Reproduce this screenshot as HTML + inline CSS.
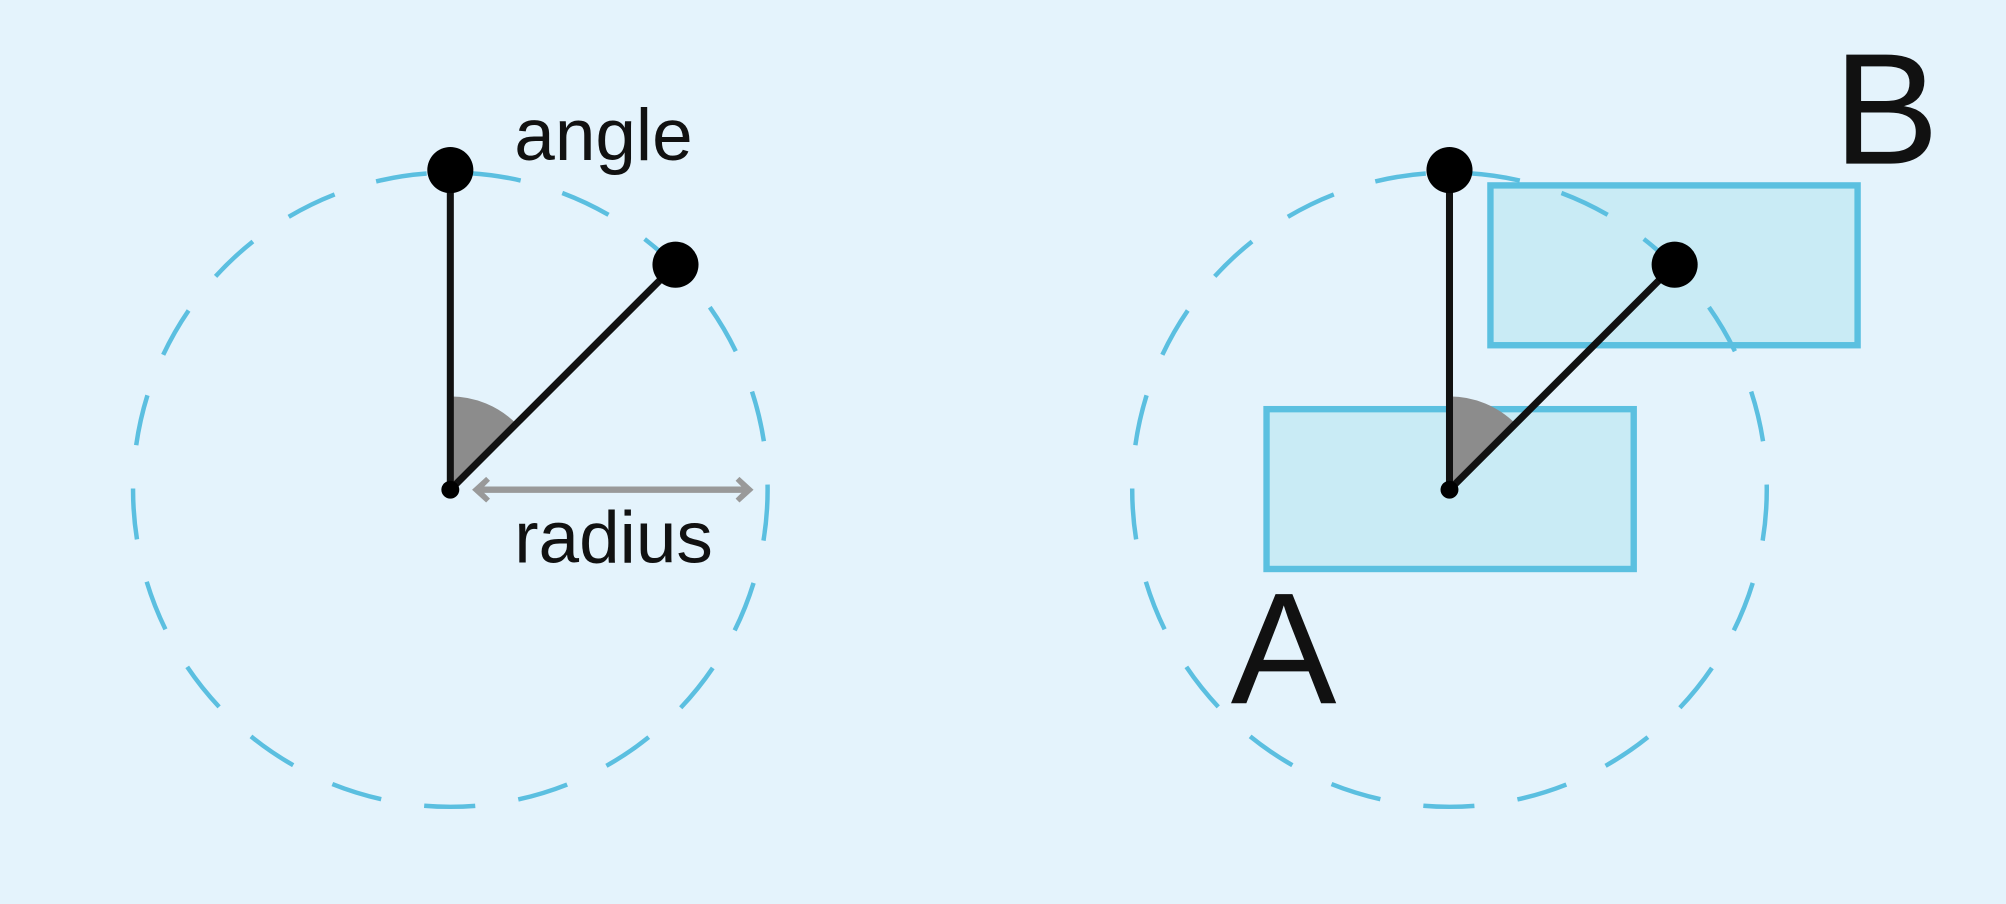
<!DOCTYPE html>
<html><head><meta charset="utf-8"><style>
html,body{margin:0;padding:0;background:#e4f3fc;}
svg{display:block;}
text{font-family:"Liberation Sans",Arial,sans-serif;fill:#111;}
</style></head><body>
<svg width="2006" height="904" viewBox="0 0 1568 707" preserveAspectRatio="none" xmlns="http://www.w3.org/2000/svg">
<rect width="1568" height="707" fill="#e4f3fc"/>
<!-- Left -->
<circle cx="352" cy="383" r="248" fill="none" stroke="#5bbfe0" stroke-width="3.5" stroke-dasharray="40 34"/>
<path d="M352 383 L352 310 A73 73 0 0 1 403.6 331.4 Z" fill="#8c8c8c"/>
<line x1="352" y1="133" x2="352" y2="383" stroke="#111" stroke-width="5.5"/>
<line x1="352" y1="383" x2="528" y2="207" stroke="#111" stroke-width="5.5"/>
<circle cx="352" cy="133" r="18" fill="#000"/>
<circle cx="528" cy="207" r="18" fill="#000"/>
<circle cx="352" cy="383" r="7" fill="#000"/>
<line x1="372" y1="383" x2="586" y2="383" stroke="#999" stroke-width="5"/>
<path d="M369 383 L380 373 L383 376 L376 383 L383 390 L380 393 Z" fill="#999"/>
<path d="M589 383 L578 373 L575 376 L582 383 L575 390 L578 393 Z" fill="#999"/>
<text x="402" y="125" font-size="57">angle</text>
<text x="402" y="440" font-size="57">radius</text>
<!-- Right -->
<rect x="1165" y="145" width="287" height="125" fill="#c9ebf5" stroke="#5bc0e0" stroke-width="5"/>
<rect x="990" y="320" width="287" height="125" fill="#c9ebf5" stroke="#5bc0e0" stroke-width="5"/>
<circle cx="1133" cy="383" r="248" fill="none" stroke="#5bbfe0" stroke-width="3.5" stroke-dasharray="40 34"/>
<path d="M1133 383 L1133 310 A73 73 0 0 1 1184.6 331.4 Z" fill="#8c8c8c"/>
<line x1="1133" y1="133" x2="1133" y2="383" stroke="#111" stroke-width="5.5"/>
<line x1="1133" y1="383" x2="1309" y2="207" stroke="#111" stroke-width="5.5"/>
<circle cx="1133" cy="133" r="18" fill="#000"/>
<circle cx="1309" cy="207" r="18" fill="#000"/>
<circle cx="1133" cy="383" r="7" fill="#000"/>
<text x="962" y="550" font-size="124">A</text>
<text x="1433" y="128" font-size="124">B</text>
</svg>
</body></html>
